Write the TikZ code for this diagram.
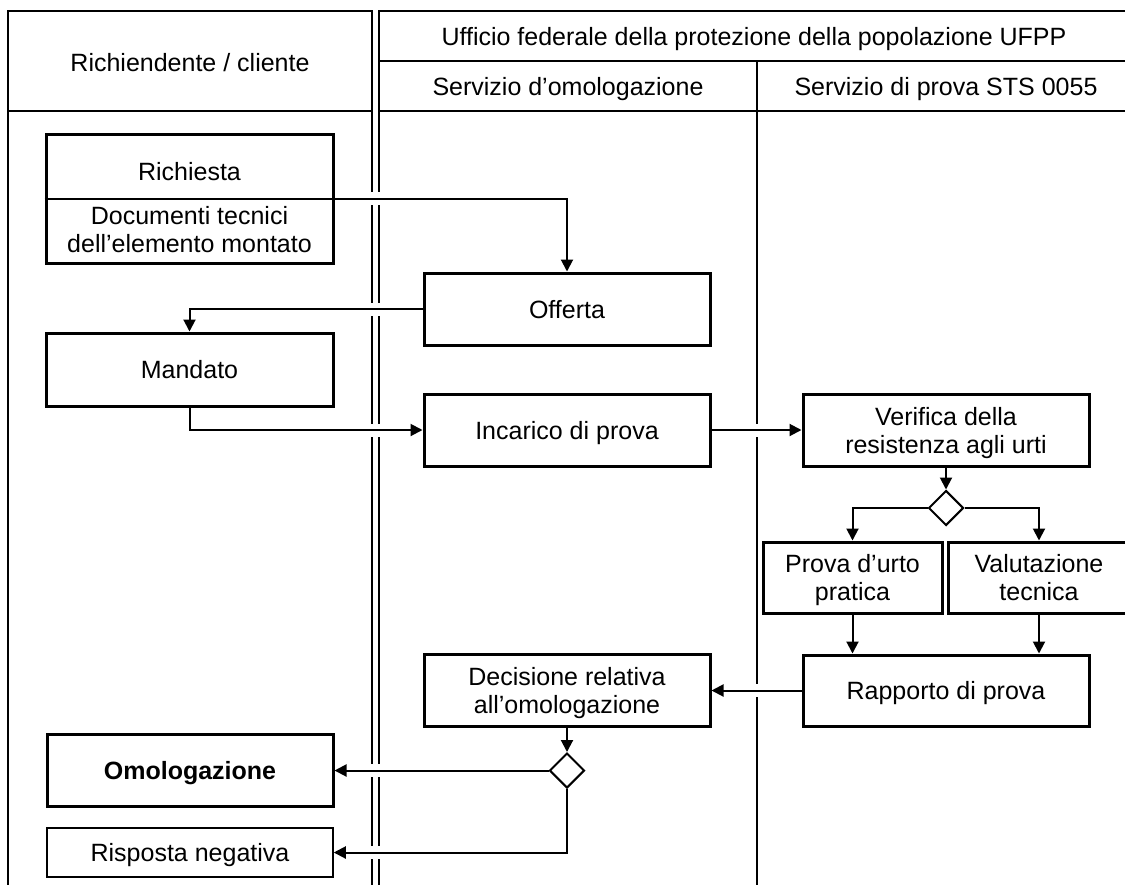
\documentclass[tikz,border=0pt]{standalone}
\usepackage{fontspec}
\setmainfont{Liberation Sans}
\usetikzlibrary{arrows.meta,shapes.geometric}
\pgfdeclarelayer{bg}
\pgfdeclarelayer{mid}
\pgfsetlayers{bg,mid,main}
\newcommand\tline[1]{\smash{#1}\rule{0pt}{18pt}}
\newcommand\myconn[1]{\begin{pgfonlayer}{mid}\draw[halo] #1;\end{pgfonlayer}\draw[conn] #1;}
\begin{document}
\begin{tikzpicture}[x=1pt,y=-1pt,
  every node/.style={font=\fontsize{25}{28}\selectfont},
  box/.style={draw,line width=3pt,rectangle,inner sep=0pt,align=center},
  thinbox/.style={draw,line width=1.5pt,rectangle,inner sep=0pt,align=center},
  gate/.style={draw,diamond,line width=2pt,inner sep=0pt,minimum width=35pt,minimum height=35pt},
  lane/.style={line width=1.5pt},
  conn/.style={line width=2pt,-{Triangle[length=12pt,width=12pt]}},
  halo/.style={white,line width=13pt},
  txt/.style={inner sep=0pt,align=center},
  hdr/.style={anchor=base,inner sep=0pt}]

\useasboundingbox (0,0) rectangle (1125,884);

\begin{pgfonlayer}{bg}
  \fill[white] (0,0) rectangle (1125,884);
  \draw[lane] (8,11) rectangle (372,1000);
  \draw[lane] (8,111) -- (372,111);
  \draw[lane] (379,11) rectangle (1135,1000);
  \draw[lane] (379,61) -- (1135,61);
  \draw[lane] (379,111) -- (1135,111);
  \draw[lane] (757,61) -- (757,1000);
\end{pgfonlayer}

% headers
\node[hdr] (h1) at (190,71) {Richiendente / cliente};
\node[hdr] (h2) at (754,45) {Ufficio federale della protezione della popolazione UFPP};
\node[hdr] (h3) at (568,95) {Servizio d’omologazione};
\node[hdr] (h4) at (946,95) {Servizio di prova STS 0055};

% boxes
\node[box,minimum width=287pt,minimum height=129pt] (req) at (189.5,198.5) {};
\draw[line width=2pt] (req.west) -- (req.east);
\node[txt] (reqA) at (189.5,171) {\tline{Richiesta}};
\node[txt] (reqB) at (189.5,229) {\tline{Documenti tecnici}\\\tline{dell’elemento montato}};

\node[box,minimum width=286pt,minimum height=72pt] (off) at (567,309) {\tline{Offerta}};
\node[box,minimum width=287pt,minimum height=73pt] (man) at (189.5,369.5) {\tline{Mandato}};
\node[box,minimum width=286pt,minimum height=72pt] (inc) at (567,430) {\tline{Incarico di prova}};
\node[box,minimum width=286pt,minimum height=72pt] (ver) at (946,430) {\tline{Verifica della}\\\tline{resistenza agli urti}};
\node[gate] (d1) at (946,508) {};
\node[box,minimum width=179pt,minimum height=71pt] (pro) at (852.5,577.5) {\tline{Prova d’urto}\\\tline{pratica}};
\node[box,minimum width=182pt,minimum height=71pt] (val) at (1039,577.5) {\tline{Valutazione}\\\tline{tecnica}};
\node[box,minimum width=286pt,minimum height=71pt] (rap) at (946,690.5) {\tline{Rapporto di prova}};
\node[box,minimum width=286pt,minimum height=72pt] (dec) at (567,690.5) {\tline{Decisione relativa}\\\tline{all’omologazione}};
\node[gate] (d2) at (567,770.5) {};
\node[box,minimum width=286pt,minimum height=72pt] (omo) at (190,770.5) {\tline{\bfseries Omologazione}};
\node[thinbox,minimum width=286pt,minimum height=49pt] (ris) at (190,852.5) {\tline{Risposta negativa}};

% connectors
\myconn{(req.east) -| (off.north)}
\myconn{(off.west) -| (man.north)}
\myconn{(man.south) |- (inc.west)}
\myconn{(inc.east) -- (ver.west)}
\myconn{(ver.south) -- (d1.north)}
\myconn{(d1.west) -| (pro.north)}
\myconn{(d1.east) -| (val.north)}
\myconn{(pro.south) -- (pro.south |- rap.north)}
\myconn{(val.south) -- (val.south |- rap.north)}
\myconn{(rap.west) -- (dec.east)}
\myconn{(dec.south) -- (d2.north)}
\myconn{(d2.west) -- (omo.east)}
\myconn{(d2.south) |- (ris.east)}
\end{tikzpicture}
\end{document}
